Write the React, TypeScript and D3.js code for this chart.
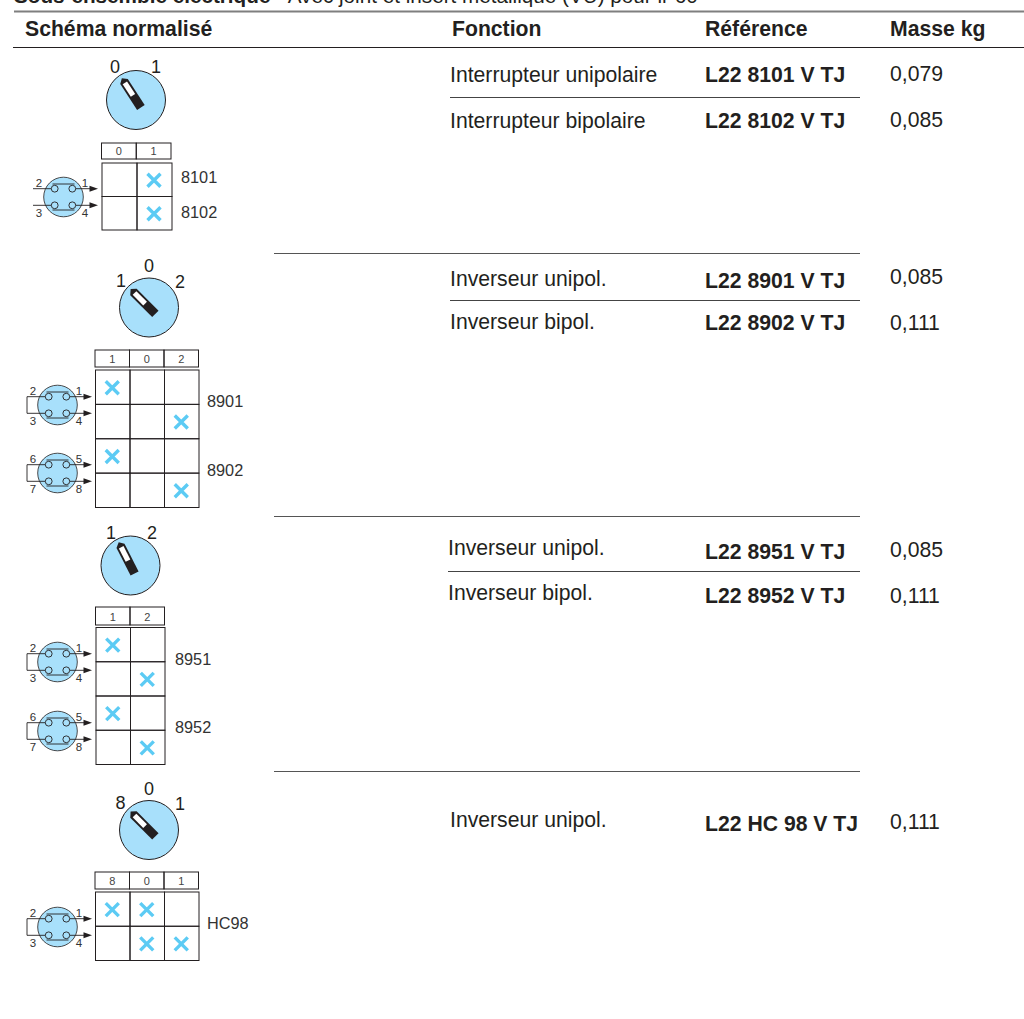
import React, { useRef, useEffect } from 'react';
import { select, scaleBand, line, range } from 'd3';

const headers = ['Schéma normalisé', 'Fonction', 'Référence', 'Masse kg'];
const fonctions = [
  'Interrupteur unipolaire',
  'Interrupteur bipolaire',
  'Inverseur unipol.',
  'Inverseur bipol.',
  'Inverseur unipol.',
  'Inverseur bipol.',
  'Inverseur unipol.',
];
const references = [
  'L22 8101 V TJ',
  'L22 8102 V TJ',
  'L22 8901 V TJ',
  'L22 8902 V TJ',
  'L22 8951 V TJ',
  'L22 8952 V TJ',
  'L22 HC 98 V TJ',
];
const masses = ['0,079', '0,085', '0,085', '0,111', '0,085', '0,111', '0,111'];

const blockPositions = [['0', '1'], ['1', '0', '2'], ['1', '2'], ['8', '0', '1']];
const blockCodes = [['8101', '8102'], ['8901', '8902'], ['8951', '8952'], ['HC98']];
// one row of crosses per contact, each number = index of the position columns closed
const blockMarks = [
  [[1], [1]],
  [[0], [2], [0], [2]],
  [[0], [1], [0], [1]],
  [[0, 1], [1, 2]],
];
const contactPins = [['2', '1', '3', '4'], ['6', '5', '7', '8']];

const ink = '#231f20';
const knobBlue = '#a8e0fb';
const crossBlue = '#5ccbf4';

const width = 1024;
const height = 1019;

const rowLayout = [
  { fx: 450, fy: 82, ry: 82, my: 80.5 },
  { fx: 450, fy: 127.5, ry: 127.5, my: 126.5 },
  { fx: 450, fy: 286, ry: 288, my: 283.5 },
  { fx: 450, fy: 328.5, ry: 329.5, my: 329.5 },
  { fx: 448, fy: 555, ry: 558.5, my: 557 },
  { fx: 448, fy: 600, ry: 602.5, my: 602.5 },
  { fx: 450, fy: 827, ry: 830.5, my: 829 },
];

const blockLayout = [
  {
    knob: [136, 100], angle: -33,
    labels: [[115, 73], [156, 73]],
    head: [101.5, 143, 171, 159], grid: [102, 163, 172, 230],
    codeX: 181, codeY: [183, 218],
    contacts: [197], loop: false,
  },
  {
    knob: [149, 307.5], angle: -45,
    labels: [[121, 287], [149, 272], [180, 288]],
    head: [95, 350, 198.5, 367], grid: [95.5, 370, 199, 507.5],
    codeX: 207, codeY: [407, 476],
    contacts: [405, 473], loop: true,
  },
  {
    knob: [130.5, 565.5], angle: -27,
    labels: [[111, 539], [152, 539]],
    head: [95.5, 607, 164.5, 625], grid: [96, 627.5, 165, 764.5],
    codeX: 175, codeY: [665, 733],
    contacts: [662, 731], loop: true,
  },
  {
    knob: [149, 830], angle: -45,
    labels: [[120.5, 809], [149, 795], [180, 810]],
    head: [95, 872, 198.5, 889], grid: [95.5, 892, 199, 960.5],
    codeX: 207, codeY: [929],
    contacts: [927], loop: true,
  },
];

const font = 'Liberation Sans, Arial, sans-serif';

const App = () => {
  const svgRef = useRef<SVGSVGElement>(null);

  useEffect(() => {
    const svg = select(svgRef.current);
    svg.selectAll('*').remove();
    const path = line();

    const hline = (x1: number, x2: number, y: number, color = ink, w = 1) =>
      svg.append('line')
        .attr('x1', x1).attr('x2', x2).attr('y1', y).attr('y2', y)
        .attr('stroke', color).attr('stroke-width', w);

    const label = (
      g: any, x: number, y: number, t: string, size: number,
      weight = 'normal', anchor = 'start', color = ink
    ) =>
      g.append('text')
        .attr('x', x).attr('y', y)
        .attr('font-size', size)
        .attr('font-weight', weight)
        .attr('text-anchor', anchor)
        .attr('fill', color)
        .text(t);

    // clipped caption at the very top of the page
    const caption = svg.append('text').attr('x', 14).attr('y', 3).attr('font-size', 20.7).attr('fill', ink);
    caption.append('tspan').attr('font-weight', 'bold').text('Sous-ensemble électrique');
    caption.append('tspan').text(' - Avec joint et insert métallique (VU) pour ir 60');

    // table head
    hline(14, width, 11.5, '#7f7f7f', 2);
    hline(13, width, 47.5, ink, 1.2);
    [25, 452, 705, 890].forEach((x, i) => label(svg, x, 36, headers[i], 21.2, 'bold'));

    // table rows
    fonctions.forEach((f, i) => {
      const r = rowLayout[i];
      label(svg, r.fx, r.fy, f, 21.2);
      label(svg, 705, r.ry, references[i], 21.2, 'bold');
      label(svg, 890, r.my, masses[i], 21.2);
    });

    [[450, 97.5], [450, 300.5], [448, 571.5]].forEach(([x, y]) => hline(x, 860, y, '#444', 1));
    [253, 516, 771].forEach((y) => hline(274, 860, y + 0.5, '#555', 1));

    // one drawing per switch family
    blockLayout.forEach((b, bi) => {
      const g = svg.append('g');
      const positions = blockPositions[bi];

      // selector knob
      const knob = g.append('g').attr('transform', `translate(${b.knob[0]},${b.knob[1]})`);
      knob.append('circle').attr('r', 29.5).attr('fill', knobBlue).attr('stroke', ink).attr('stroke-width', 1);
      const handle = knob.append('g').attr('transform', `rotate(${b.angle})`);
      handle.append('path')
        .attr('d', path([[-4.5, 9], [-4.5, -22], [0, -26], [4.5, -22], [4.5, 9]]) + 'Z')
        .attr('fill', ink);
      handle.append('rect').attr('x', -2.6).attr('y', -20.5).attr('width', 5.2).attr('height', 15).attr('fill', '#fff');
      positions.forEach((p, i) => label(g, b.labels[i][0], b.labels[i][1], p, 18, 'normal', 'middle'));

      // position header
      const [hx0, hy0, hx1, hy1] = b.head;
      const headX = scaleBand<string>().domain(range(positions.length).map(String)).range([hx0, hx1]);
      positions.forEach((p, i) => {
        g.append('rect')
          .attr('x', headX(String(i))).attr('y', hy0)
          .attr('width', headX.bandwidth()).attr('height', hy1 - hy0)
          .attr('fill', 'none').attr('stroke', ink).attr('stroke-width', 1);
        label(g, headX(String(i))! + headX.bandwidth() / 2, hy1 - 4, p, 11, 'normal', 'middle', '#444');
      });

      // cross matrix
      const [gx0, gy0, gx1, gy1] = b.grid;
      const marks = blockMarks[bi];
      const cellX = scaleBand<string>().domain(range(positions.length).map(String)).range([gx0, gx1]);
      const cellY = scaleBand<string>().domain(range(marks.length).map(String)).range([gy0, gy1]);
      marks.forEach((rowMarks, r) => {
        positions.forEach((_, c) => {
          g.append('rect')
            .attr('x', cellX(String(c))).attr('y', cellY(String(r)))
            .attr('width', cellX.bandwidth()).attr('height', cellY.bandwidth())
            .attr('fill', 'none').attr('stroke', ink).attr('stroke-width', 1);
        });
        rowMarks.forEach((c) => {
          const cx = cellX(String(c))! + cellX.bandwidth() / 2 - 0.5;
          const cy = cellY(String(r))! + cellY.bandwidth() / 2 + 0.5;
          g.append('path')
            .attr('d', `${path([[cx - 6.5, cy - 6.5], [cx + 6.5, cy + 6.5]])}${path([[cx + 6.5, cy - 6.5], [cx - 6.5, cy + 6.5]])}`)
            .attr('stroke', crossBlue).attr('stroke-width', 3.4).attr('fill', 'none');
        });
      });

      blockCodes[bi].forEach((code, i) => label(g, b.codeX, b.codeY[i], code, 16.3, 'normal', 'start', '#333'));

      // contact symbols
      b.contacts.forEach((cy, ci) => {
        const cx = bi === 0 ? 63.5 : 57.5;
        const c = g.append('g').attr('transform', `translate(${cx},${cy})`);
        c.append('circle').attr('r', 19.8).attr('fill', knobBlue).attr('stroke', ink).attr('stroke-width', 0.8);
        [-8.3, 8.3].forEach((dy) => {
          c.append('path').attr('d', path([[-30.5, dy], [-12, dy]])).attr('stroke', ink).attr('stroke-width', 0.9);
          c.append('path').attr('d', path([[12, dy], [28, dy]])).attr('stroke', ink).attr('stroke-width', 0.9);
          c.append('path').attr('d', path([[26, dy - 3], [34.5, dy], [26, dy + 3]]) + 'Z').attr('fill', ink);
          [-8.8, 8.8].forEach((dx) => {
            c.append('circle').attr('cx', dx).attr('cy', dy).attr('r', 3.4)
              .attr('fill', knobBlue).attr('stroke', ink).attr('stroke-width', 0.9);
          });
          const barY = dy < 0 ? -13 : 13;
          c.append('path').attr('d', path([[-11, barY], [11, barY]])).attr('stroke', ink).attr('stroke-width', 0.9);
        });
        if (b.loop) {
          c.append('path').attr('d', path([[-30.5, -8.3], [-30.5, 8.3]])).attr('stroke', ink).attr('stroke-width', 0.9);
        }
        const pins = contactPins[ci];
        label(c, -24.5, -10.5, pins[0], 11.5, 'normal', 'middle', '#333');
        label(c, 21.5, -10.5, pins[1], 11.5, 'normal', 'middle', '#333');
        label(c, -24.5, 20, pins[2], 11.5, 'normal', 'middle', '#333');
        label(c, 21.5, 20, pins[3], 11.5, 'normal', 'middle', '#333');
      });
    });
  }, []);

  return (
    <svg
      ref={svgRef}
      width={width}
      height={height}
      style={{ position: 'absolute', left: 0, top: 0, fontFamily: font, background: '#fff' }}
    ></svg>
  );
};

export default App;
